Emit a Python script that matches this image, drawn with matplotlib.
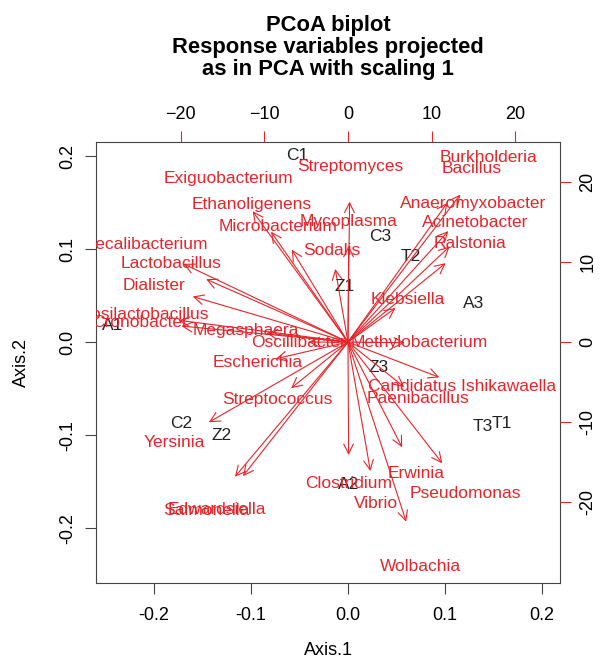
import matplotlib
matplotlib.use("Agg")
import matplotlib.pyplot as plt
import numpy as np

plt.rcParams["font.family"] = ["Liberation Sans", "DejaVu Sans"]

# sample scores (Axis.1, Axis.2)
samples = ["C1", "C3", "T2", "Z1", "A3", "A1", "Z3", "C2", "Z2", "T3", "T1", "A2"]
axis1 = [-0.052, 0.033, 0.065, -0.003, 0.130, -0.243, 0.032, -0.172, -0.130, 0.139, 0.159, 0.001]
axis2 = [0.201, 0.114, 0.092, 0.060, 0.042, 0.018, -0.027, -0.087, -0.100, -0.091, -0.087, -0.153]

# projected response variables (label positions, secondary scale)
genera = ["Streptomyces", "Burkholderia", "Bacillus", "Exiguobacterium", "Ethanoligenens",
          "Microbacterium", "Mycoplasma", "Sodalis", "Anaeromyxobacter", "Acinetobacter",
          "Ralstonia", "Klebsiella", "Faecalibacterium", "Lactobacillus", "Dialister",
          "Limosilactobacillus", "Cronobacter", "Megasphaera", "Oscillibacter", "Escherichia",
          "Streptococcus", "Yersinia", "Edwardsiella", "Salmonella", "Methylobacterium",
          "Candidatus Ishikawaella", "Paenibacillus", "Erwinia", "Pseudomonas", "Clostridium",
          "Vibrio", "Wolbachia"]
gen_x = [0.24, 16.8, 14.85, -14.25, -11.5, -8.4, 0.1, -1.9, 15.0, 15.2, 14.6, 7.1, -24.6,
         -21.2, -23.2, -25.3, -24.9, -12.2, -5.9, -10.8, -8.5, -20.8, -15.7, -16.9, 8.5, 13.65,
         8.4, 8.1, 14.1, 0.1, 3.35, 8.7]
gen_y = [21.9, 23.0, 21.7, 20.4, 17.2, 14.4, 15.0, 11.4, 17.3, 14.9, 12.3, 5.3, 12.2, 9.8,
         7.1, 3.4, 2.5, 1.4, 0.0, -2.6, -7.2, -12.5, -20.9, -21.0, -0.1, -5.5, -7.0, -16.4,
         -18.9, -17.6, -20.1, -28.0]

red = "#e3262b"
dark = "#222222"
ratio = 116.0

fig = plt.figure(figsize=(6, 6.64), dpi=100)
pos = [0.16, 0.122, 0.7733, 0.664]
ax = fig.add_axes(pos)
ax.set_xlim(-0.2598, 0.2186)
ax.set_ylim(-0.259, 0.215)
ax.set_xticks([-0.2, -0.1, 0.0, 0.1, 0.2])
ax.set_xticklabels(["-0.2", "-0.1", "0.0", "0.1", "0.2"])
ax.set_yticks([-0.2, -0.1, 0.0, 0.1, 0.2])
ax.set_yticklabels(["-0.2", "-0.1", "0.0", "0.1", "0.2"], rotation=90, va="center")
ax.tick_params(labelsize=13, length=8, color="#444444", pad=6)
ax.tick_params(axis="x", pad=9)
for s in ax.spines.values():
    s.set_color("#444444")
ax.set_xlabel("Axis.1", fontsize=13, labelpad=13)
ax.set_ylabel("Axis.2", fontsize=13, labelpad=21)
for name, x, y in zip(samples, axis1, axis2):
    ax.text(x, y, name, color=dark, fontsize=12.5, ha="center", va="center", clip_on=True)

ax2 = fig.add_axes(pos, frameon=False)
ax2.set_xlim(-0.2598 * ratio, 0.2186 * ratio)
ax2.set_ylim(-0.259 * ratio, 0.215 * ratio)
ax2.xaxis.tick_top()
ax2.yaxis.tick_right()
ax2.set_xticks([-20, -10, 0, 10, 20])
ax2.set_yticks([-20, -10, 0, 10, 20])
ax2.set_yticklabels(["-20", "-10", "0", "10", "20"], rotation=90, va="center")
ax2.tick_params(labelsize=13, length=8, color=red, pad=6)

for name, x, y in zip(genera, gen_x, gen_y):
    ax2.annotate("", xy=(0.8 * x, 0.8 * y), xytext=(0, 0),
                 arrowprops=dict(arrowstyle="->,head_length=0.7,head_width=0.35",
                                 color=red, lw=0.8, shrinkA=0, shrinkB=0))
    ax2.text(x, y, name, color=red, fontsize=12.5, ha="center", va="center", clip_on=True)

fig.text(0.5467, 0.977, "PCoA biplot\nResponse variables projected\nas in PCA with scaling 1",
         ha="center", va="top", fontsize=15.8, fontweight="bold", linespacing=1.05)

fig.savefig("out.png", dpi=100)
